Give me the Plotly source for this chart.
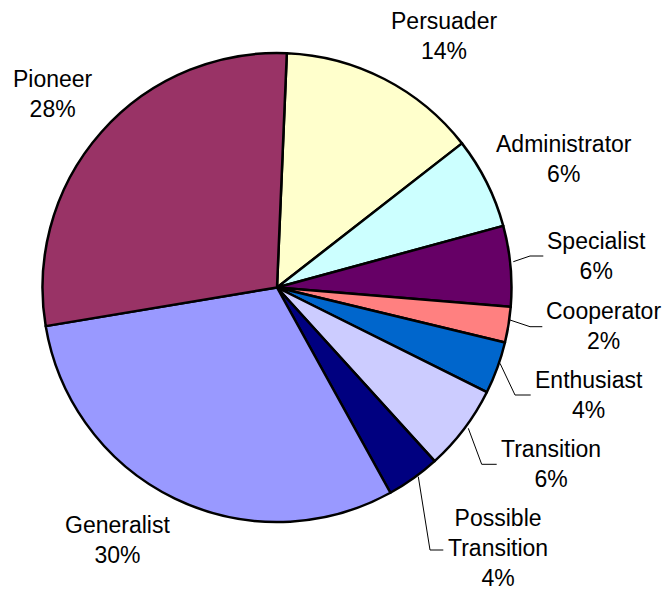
import plotly.graph_objects as go

# ---- data (percent of total) ----
labels = ["Persuader", "Administrator", "Specialist", "Cooperator", "Enthusiast",
          "Transition", "Possible Transition", "Generalist", "Pioneer"]
shares = [13.8, 6.3, 5.55, 2.45, 3.6, 5.9, 3.7, 30.4, 28.3]
colors = ["#FFFFCC", "#CCFFFF", "#660066", "#FF8080", "#0066CC",
          "#CCCCFF", "#000080", "#9999FF", "#993366"]

# ---- layout helpers ----
W, H = 665, 590
def px(x, y):
    return x / W, 1 - y / H

cx, cy, r = 277, 287.5, 234.5

total = sum(shares)
pct_text = {lab: f"{round(100 * v / total)}%" for lab, v in zip(labels, shares)}
display_names = {"Possible Transition": "Possible<br>Transition"}

# label centres (pixels)
label_pos = {
    "Persuader": (443.5, 36),
    "Administrator": (564, 159),
    "Specialist": (596, 256),
    "Cooperator": (603.5, 325.5),
    "Enthusiast": (589, 395),
    "Transition": (551, 464),
    "Possible Transition": (497.5, 548),
    "Generalist": (117, 540),
    "Pioneer": (52.5, 93.5),
}

# leader lines (pixels): list of points
leaders = [
    [(513.3, 261.7), (530, 256), (543.3, 256)],
    [(510, 320), (530, 326.7), (542.3, 326.7)],
    [(500, 363.3), (515, 395), (530.7, 395)],
    [(468.3, 428.3), (481.7, 464.3), (496.7, 464.3)],
    [(418.3, 476.7), (430, 550), (443.3, 550)],
]

fig = go.Figure(go.Pie(
    labels=labels,
    values=shares,
    sort=False,
    direction="clockwise",
    rotation=2.4,
    textinfo="none",
    marker=dict(colors=colors, line=dict(color="black", width=2.5)),
    domain=dict(x=[(cx - r) / W, (cx + r) / W],
                y=[1 - (cy + r) / H, 1 - (cy - r) / H]),
    showlegend=False,
))

annotations = []
for lab in labels:
    x, y = px(*label_pos[lab])
    name = display_names.get(lab, lab)
    annotations.append(dict(
        x=x, y=y, xref="paper", yref="paper",
        text=f"{name}<br>{pct_text[lab]}",
        showarrow=False, xanchor="center", yanchor="middle", align="center",
        font=dict(family="Liberation Sans, Arial, sans-serif", size=23, color="black"),
    ))

shapes = []
for pts in leaders:
    for (x0, y0), (x1, y1) in zip(pts[:-1], pts[1:]):
        a0, b0 = px(x0, y0)
        a1, b1 = px(x1, y1)
        shapes.append(dict(type="line", xref="paper", yref="paper",
                           x0=a0, y0=b0, x1=a1, y1=b1,
                           line=dict(color="black", width=1)))

fig.update_layout(
    width=W, height=H,
    margin=dict(l=0, r=0, t=0, b=0),
    paper_bgcolor="white", plot_bgcolor="white",
    annotations=annotations,
    shapes=shapes,
)

fig.write_html("out.html",
               config={"displayModeBar": False},
               post_script="document.body.style.margin='0';document.body.style.padding='0';")
